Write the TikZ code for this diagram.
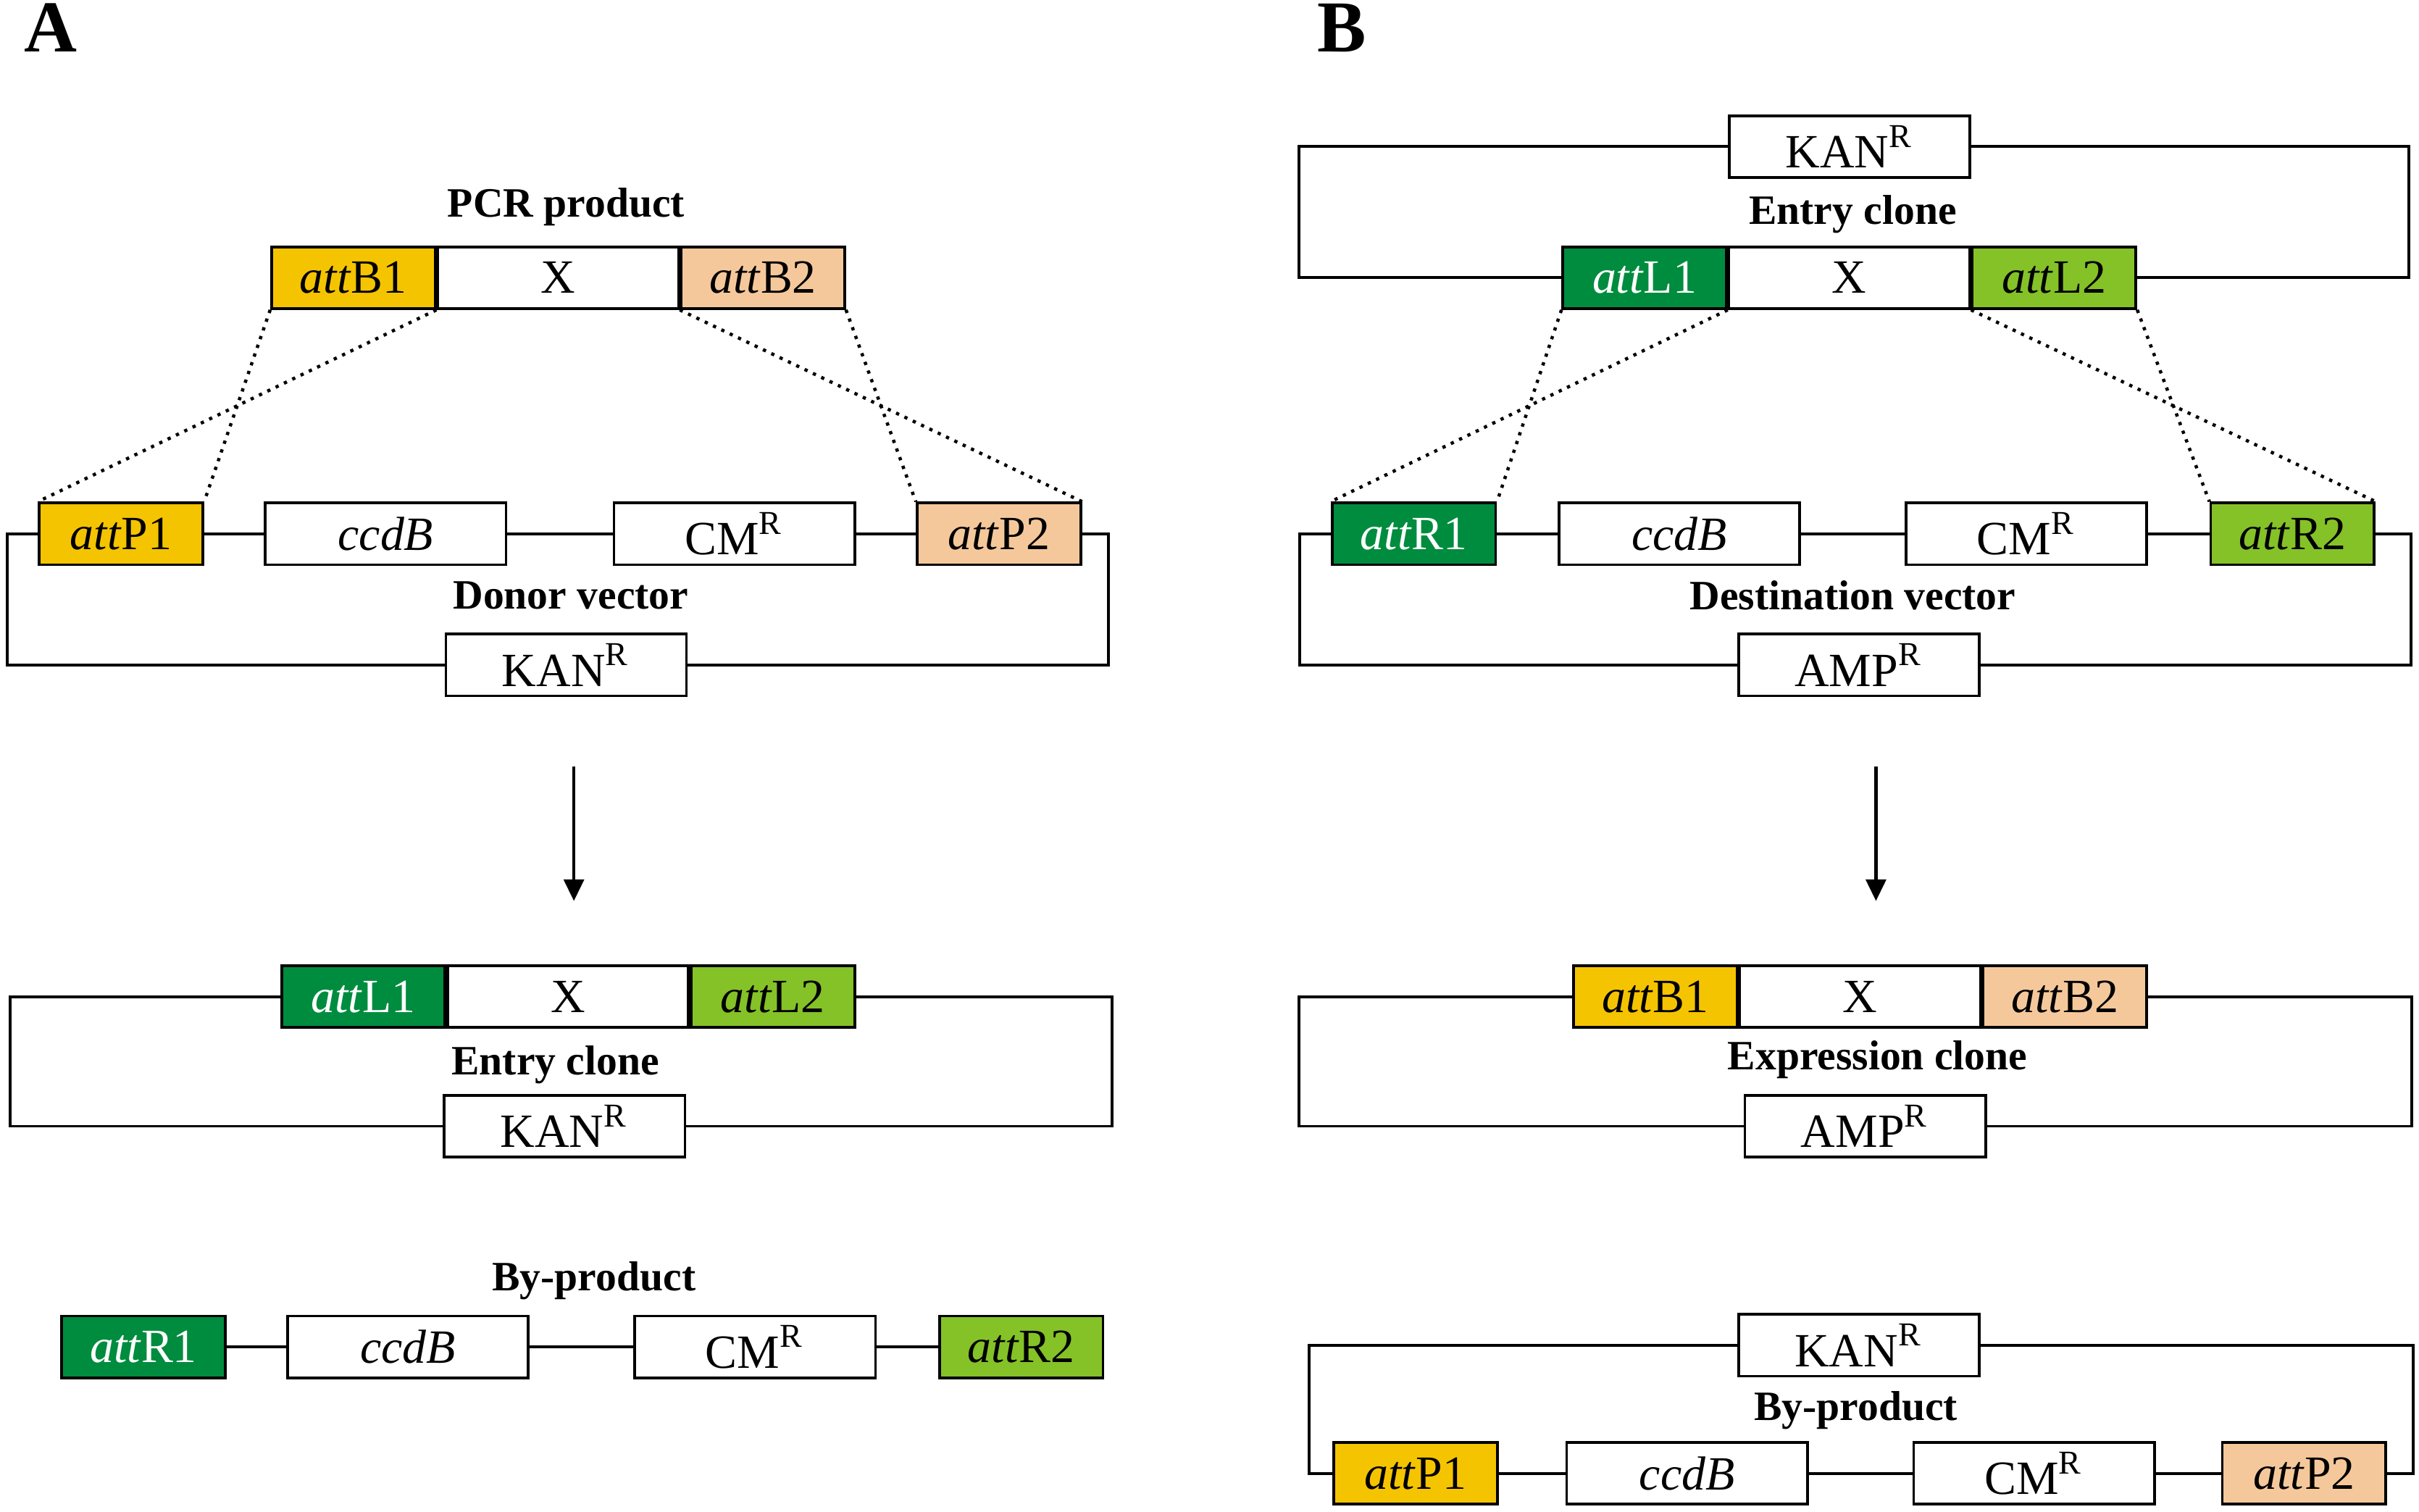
\documentclass[tikz,border=0pt]{standalone}
\usepackage{fontspec}
\setmainfont{Liberation Serif}
\usetikzlibrary{arrows.meta}

\definecolor{attyellow}{RGB}{245,196,0}
\definecolor{attpeach}{RGB}{245,200,155}
\definecolor{attdark}{RGB}{0,140,62}
\definecolor{attlight}{RGB}{132,194,40}
\newcommand{\attsite}[1]{\textit{att}#1}
\newcommand{\res}[1]{#1\textsuperscript{R}}

\begin{document}
\begin{tikzpicture}[x=0.1mm,y=-0.1mm]
\tikzstyle{box}=[draw, line width=0.5pt, inner sep=0pt, minimum height=4.0mm,
  font=\fontsize{8.8}{10}\selectfont]
\tikzstyle{gene}=[box, fill=white, minimum width=15.6mm]
\tikzstyle{site}=[box, minimum width=10.6mm]
\tikzstyle{yel}=[site, fill=attyellow]
\tikzstyle{peach}=[site, fill=attpeach]
\tikzstyle{dkgreen}=[site, fill=attdark, text=white]
\tikzstyle{ltgreen}=[site, fill=attlight]
\tikzstyle{vecname}=[font=\fontsize{7.7}{9}\selectfont\bfseries]
\tikzstyle{panel}=[font=\fontsize{13.5}{16}\selectfont\bfseries]
\tikzstyle{backbone}=[line width=0.5pt]
\tikzstyle{joint}=[line width=0.6pt, dash pattern=on 0.6pt off 1.1pt]
\tikzstyle{step arrow}=[line width=0.6pt, -{Triangle[length=1.4mm,width=1.3mm]}]
\useasboundingbox (0,0) rectangle (1568,980);

% panel A
\node[panel] (pA) at (33,18) {A};
\node[vecname] (pcr) at (367,134) {PCR product};
\node[yel] (aB1) at (229,180) {\attsite{B1}};
\node[gene, anchor=west] (aX) at (aB1.east) {X};
\node[peach, anchor=west] (aB2) at (aX.east) {\attsite{B2}};

\node[yel] (aP1) at (78.5,346) {\attsite{P1}};
\node[gene] (aDccdB) at (250,346) {\textit{ccdB}};
\node[gene] (aDcm) at (476,346) {\res{CM}};
\node[peach] (aP2) at (647.5,346) {\attsite{P2}};
\node[vecname] (donor) at (370,386) {Donor vector};
\node[gene] (aDkan) at (367,431) {\res{KAN}};
\draw[backbone] (aP1) -- (aDccdB) -- (aDcm) -- (aP2);
\draw[backbone] (aP1.west) -- ++(-20,0) |- (aDkan.west);
\draw[backbone] (aP2.east) -- ++(17,0) |- (aDkan.east);

\draw[joint] (aB1.south west) -- (aP1.north east);
\draw[joint] (aB1.south east) -- (aP1.north west);
\draw[joint] (aB2.south west) -- (aP2.north east);
\draw[joint] (aB2.south east) -- (aP2.north west);

\coordinate (aTop) at (372,497);
\coordinate (aBot) at (372,584);
\draw[step arrow] (aTop) -- (aBot);

\node[dkgreen] (aL1) at (235.5,646) {\attsite{L1}};
\node[gene, anchor=west] (aEX) at (aL1.east) {X};
\node[ltgreen, anchor=west] (aL2) at (aEX.east) {\attsite{L2}};
\node[vecname] (aentry) at (360,690) {Entry clone};
\node[gene] (aEkan) at (366,730) {\res{KAN}};
\draw[backbone] (aL1.west) -- ++(-175,0) |- (aEkan.west);
\draw[backbone] (aL2.east) -- ++(166,0) |- (aEkan.east);

\node[vecname] (abyp) at (385,830) {By-product};
\node[dkgreen] (aR1) at (93,873) {\attsite{R1}};
\node[gene] (aBccdB) at (264.5,873) {\textit{ccdB}};
\node[gene] (aBcm) at (489.5,873) {\res{CM}};
\node[ltgreen] (aR2) at (662,873) {\attsite{R2}};
\draw[backbone] (aR1) -- (aBccdB) -- (aBcm) -- (aR2);

% panel B
\node[panel] (pB) at (870,18) {B};
\node[gene] (bEkan) at (1199,95) {\res{KAN}};
\node[vecname] (bentry) at (1201,139) {Entry clone};
\node[dkgreen] (bL1) at (1066,180) {\attsite{L1}};
\node[gene, anchor=west] (bEX) at (bL1.east) {X};
\node[ltgreen, anchor=west] (bL2) at (bEX.east) {\attsite{L2}};
\draw[backbone] (bL1.west) -- ++(-170,0) |- (bEkan.west);
\draw[backbone] (bL2.east) -- ++(176,0) |- (bEkan.east);

\node[dkgreen] (bR1) at (916.5,346) {\attsite{R1}};
\node[gene] (bDccdB) at (1088.5,346) {\textit{ccdB}};
\node[gene] (bDcm) at (1313.5,346) {\res{CM}};
\node[ltgreen] (bR2) at (1486,346) {\attsite{R2}};
\node[vecname] (dest) at (1201,386) {Destination vector};
\node[gene] (bDamp) at (1205,431) {\res{AMP}};
\draw[backbone] (bR1) -- (bDccdB) -- (bDcm) -- (bR2);
\draw[backbone] (bR1.west) -- ++(-20,0) |- (bDamp.west);
\draw[backbone] (bR2.east) -- ++(23,0) |- (bDamp.east);

\draw[joint] (bL1.south west) -- (bR1.north east);
\draw[joint] (bL1.south east) -- (bR1.north west);
\draw[joint] (bL2.south west) -- (bR2.north east);
\draw[joint] (bL2.south east) -- (bR2.north west);

\coordinate (bTop) at (1216,497);
\coordinate (bBot) at (1216,584);
\draw[step arrow] (bTop) -- (bBot);

\node[yel] (bB1) at (1073,646) {\attsite{B1}};
\node[gene, anchor=west] (bXX) at (bB1.east) {X};
\node[peach, anchor=west] (bB2) at (bXX.east) {\attsite{B2}};
\node[vecname] (expr) at (1217,687) {Expression clone};
\node[gene] (bXamp) at (1209,730) {\res{AMP}};
\draw[backbone] (bB1.west) -- ++(-177,0) |- (bXamp.west);
\draw[backbone] (bB2.east) -- ++(171,0) |- (bXamp.east);

\node[gene] (bBkan) at (1205,872) {\res{KAN}};
\node[vecname] (bbyp) at (1203,914) {By-product};
\node[yel] (bP1) at (917.5,955) {\attsite{P1}};
\node[gene] (bBccdB) at (1093.5,955) {\textit{ccdB}};
\node[gene] (bBcm) at (1318.5,955) {\res{CM}};
\node[peach] (bP2) at (1493.5,955) {\attsite{P2}};
\draw[backbone] (bP1) -- (bBccdB) -- (bBcm) -- (bP2);
\draw[backbone] (bP1.west) -- ++(-15,0) |- (bBkan.west);
\draw[backbone] (bP2.east) -- ++(17,0) |- (bBkan.east);
\end{tikzpicture}
\end{document}
